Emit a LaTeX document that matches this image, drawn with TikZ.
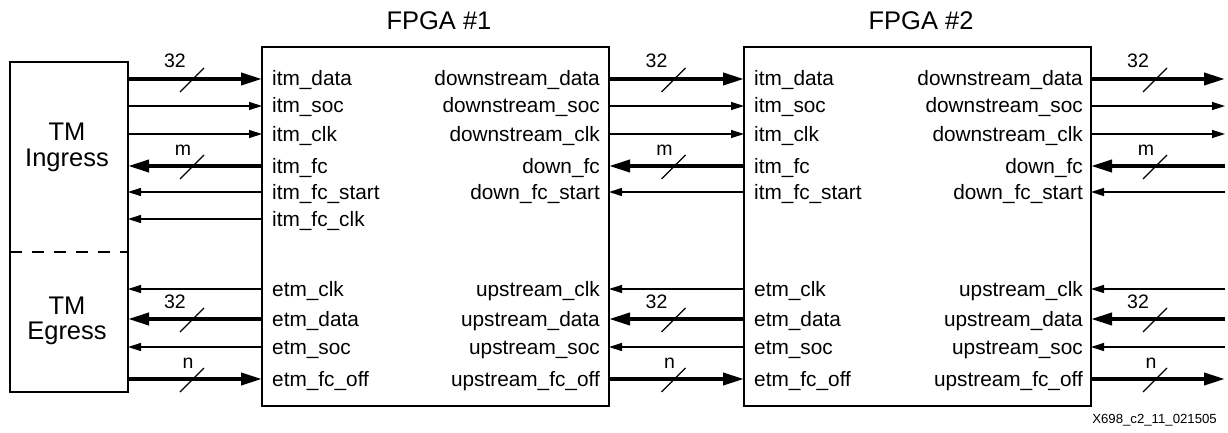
\documentclass[tikz,border=0pt]{standalone}
\usepackage{fontspec}
\setmainfont{Liberation Sans}
\usetikzlibrary{arrows.meta,calc}
\begin{document}
\begin{tikzpicture}[x=1pt,y=-1pt,
  blk/.style={draw, line width=2.2pt, inner sep=0pt, outer sep=0pt, anchor=north west},
  port/.style={font=\fontsize{20.8}{24}\selectfont, inner sep=0pt},
  pw/.style={port, anchor=base west},
  pe/.style={port, anchor=base east},
  ttl/.style={font=\fontsize{25.5}{30}\selectfont, inner sep=0pt, anchor=base},
  busnum/.style={font=\fontsize{19.5}{22}\selectfont, inner sep=0pt, anchor=base},
  sig/.style={line width=1.3pt, -{Triangle[length=13pt,width=8pt]}},
  bus/.style={line width=3.8pt, -{Triangle[length=21pt,width=12pt]}},
  slash/.style={line width=1.2pt}]
\useasboundingbox (0,0) rectangle (1228,433);

% blocks
\node[blk, minimum width=118pt, minimum height=330pt] (tm) at (10,62) {};
\node[blk, minimum width=347pt, minimum height=359pt] (f1) at (262,47) {};
\node[blk, minimum width=347pt, minimum height=359pt] (f2) at (744,47) {};
\draw[line width=2.4pt, dash pattern=on 12pt off 10pt] (tm.west |- 0,252) coordinate (dl) -- (tm.east |- 0,252) coordinate (dr);

% titles
\node[ttl] (t1) at (439,30) {FPGA \#1};
\node[ttl] (t2) at (921,30) {FPGA \#2};
\node[ttl] (tm1) at (67,140) {TM};
\node[ttl] (tm2) at (67,166) {Ingress};
\node[ttl] (tm3) at (67,314) {TM};
\node[ttl] (tm4) at (67,339) {Egress};

% port coordinates on every edge
\foreach \y in {79,106,134,166,192,219,289,319,347,379}{
  \coordinate (tm-\y) at (128,\y);
  \coordinate (f1w-\y) at (262,\y);
}
\foreach \y in {79,106,134,166,192,289,319,347,379}{
  \coordinate (f1e-\y) at (609,\y);
  \coordinate (f2w-\y) at (744,\y);
  \coordinate (f2e-\y) at (1091,\y);
  \coordinate (out-\y) at (1225,\y);
}

% FPGA #1 port names
\foreach \y/\t [count=\i] in {79/itm\_data,106/itm\_soc,134/itm\_clk,166/itm\_fc,192/itm\_fc\_start,219/itm\_fc\_clk,289/etm\_clk,319/etm\_data,347/etm\_soc,379/etm\_fc\_off}
  \node[pw] (a\i) at (272,\y+7) {\t};
\foreach \y/\t [count=\i] in {79/downstream\_data,106/downstream\_soc,134/downstream\_clk,166/down\_fc,192/down\_fc\_start,289/upstream\_clk,319/upstream\_data,347/upstream\_soc,379/upstream\_fc\_off}
  \node[pe] (b\i) at (600,\y+7) {\t};
% FPGA #2 port names
\foreach \y/\t [count=\i] in {79/itm\_data,106/itm\_soc,134/itm\_clk,166/itm\_fc,192/itm\_fc\_start,289/etm\_clk,319/etm\_data,347/etm\_soc,379/etm\_fc\_off}
  \node[pw] (c\i) at (754,\y+7) {\t};
\foreach \y/\t [count=\i] in {79/downstream\_data,106/downstream\_soc,134/downstream\_clk,166/down\_fc,192/down\_fc\_start,289/upstream\_clk,319/upstream\_data,347/upstream\_soc,379/upstream\_fc\_off}
  \node[pe] (d\i) at (1083,\y+7) {\t};

% TM <-> FPGA #1
\draw[bus] (tm-79) -- (f1w-79);
\draw[sig] (tm-106) -- (f1w-106);
\draw[sig] (tm-134) -- (f1w-134);
\draw[bus] (f1w-166) -- (tm-166);
\draw[sig] (f1w-192) -- (tm-192);
\draw[sig] (f1w-219) -- (tm-219);
\draw[sig] (f1w-289) -- (tm-289);
\draw[bus] (f1w-319) -- (tm-319);
\draw[sig] (f1w-347) -- (tm-347);
\draw[bus] (tm-379) -- (f1w-379);

% FPGA #1 <-> FPGA #2 and FPGA #2 <-> outside
\foreach \p/\q in {f1e/f2w, f2e/out}{
  \draw[bus] (\p-79) -- (\q-79);
  \draw[sig] (\p-106) -- (\q-106);
  \draw[sig] (\p-134) -- (\q-134);
  \draw[bus] (\q-166) -- (\p-166);
  \draw[sig] (\q-192) -- (\p-192);
  \draw[sig] (\q-289) -- (\p-289);
  \draw[bus] (\q-319) -- (\p-319);
  \draw[sig] (\q-347) -- (\p-347);
  \draw[bus] (\p-379) -- (\q-379);
}

% bus width marks
\foreach \m [count=\j] in {195,676.5,1158}{
  \foreach \y/\n/\o [count=\k] in {79/32/-20,166/m/-12,319/32/-20,379/n/-7}{
    \draw[slash] (\m-3-12,\y+13) -- (\m-3+12,\y-11);
    \node[busnum] (w\j-\k) at (\m+\o,\y-11) {\n};
  }
}

% drawing number
\node[font=\fontsize{13.2}{15}\selectfont, inner sep=0pt, anchor=base east] (ref) at (1217,423) {X698\_c2\_11\_021505};
\end{tikzpicture}
\end{document}
